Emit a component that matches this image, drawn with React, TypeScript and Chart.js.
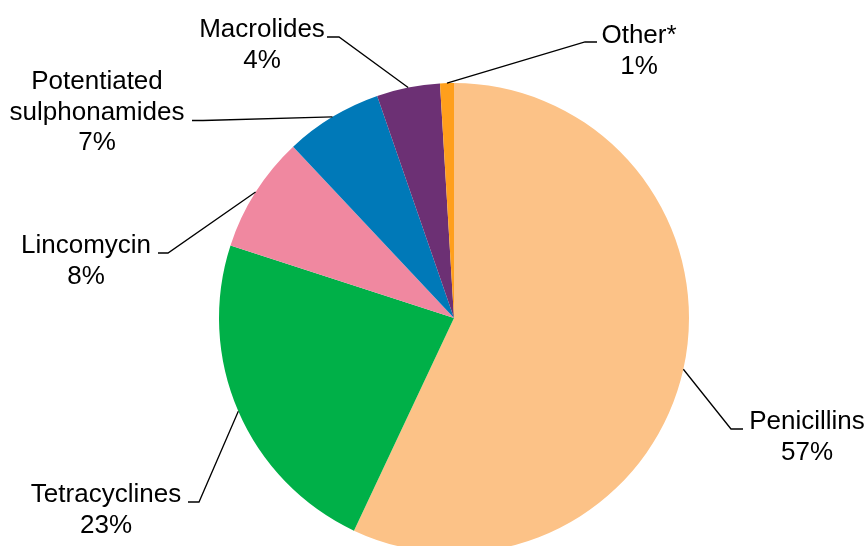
import React, { useEffect, useRef } from "react";
import { Chart, registerables } from "chart.js";

Chart.register(...registerables);

// ---- data ----
const categories = [
  "Penicillins",
  "Tetracyclines",
  "Lincomycin",
  "Potentiated sulphonamides",
  "Macrolides",
  "Other*",
];
const shares = [57.0, 23.0, 8.0, 6.7, 4.35, 0.95];
const shareLabels = ["57%", "23%", "8%", "7%", "4%", "1%"];
const labelLines = [
  ["Penicillins"],
  ["Tetracyclines"],
  ["Lincomycin"],
  ["Potentiated", "sulphonamides"],
  ["Macrolides"],
  ["Other*"],
];
const colors = ["#FCC287", "#00B048", "#F088A0", "#0079B8", "#6C3074", "#FF9F1C"];

// ---- layout of data labels (text centre x, first-line baseline y, elbow, anchor) ----
const labelLayout = [
  { x: 807, y: 429, elbow: [731, 429], anchor: [743, 429] },
  { x: 106, y: 502, elbow: [199, 502], anchor: [188, 502] },
  { x: 86, y: 253, elbow: [168, 253], anchor: [158, 253] },
  { x: 97, y: 89, elbow: [203, 120.5], anchor: [192, 120.5] },
  { x: 262, y: 37, elbow: [339, 37], anchor: [327, 37] },
  { x: 639, y: 43, elbow: [585, 42], anchor: [597, 42] },
];
const LINE_H = 30.5;
const FONT = "26px 'Liberation Sans', Arial, sans-serif";

const labelPlugin = {
  id: "pieLabels",
  afterDraw(chart: any) {
    const ctx = chart.ctx;
    const meta = chart.getDatasetMeta(0);
    ctx.save();
    meta.data.forEach((arc: any, i: number) => {
      const p = arc.getProps(["x", "y", "startAngle", "endAngle", "outerRadius"], true);
      const mid = (p.startAngle + p.endAngle) / 2;
      const ex = p.x + Math.cos(mid) * p.outerRadius;
      const ey = p.y + Math.sin(mid) * p.outerRadius;
      const L = labelLayout[i];
      ctx.beginPath();
      ctx.strokeStyle = "#000";
      ctx.lineWidth = 1.3;
      ctx.moveTo(ex, ey);
      ctx.lineTo(L.elbow[0], L.elbow[1]);
      ctx.lineTo(L.anchor[0], L.anchor[1]);
      ctx.stroke();

      ctx.fillStyle = "#000";
      ctx.font = FONT;
      ctx.textAlign = "center";
      ctx.textBaseline = "alphabetic";
      const lines = [...labelLines[i], shareLabels[i]];
      lines.forEach((t, k) => {
        ctx.fillText(t, L.x, L.y + k * LINE_H);
      });
    });
    ctx.restore();
  },
};

export default function App() {
  const ref = useRef<HTMLCanvasElement | null>(null);
  useEffect(() => {
    if (!ref.current) return;
    const chart = new Chart(ref.current, {
      type: "pie",
      data: {
        labels: categories,
        datasets: [
          {
            data: shares,
            backgroundColor: colors,
            borderWidth: 0,
          },
        ],
      },
      options: {
        animation: false,
        responsive: true,
        maintainAspectRatio: false,
        layout: { padding: { top: 83, left: 219, right: 179, bottom: 7 } },
        plugins: {
          legend: { display: false },
          tooltip: { enabled: false },
        },
      },
      plugins: [labelPlugin],
    });
    return () => chart.destroy();
  }, []);

  return (
    <div
      style={{
        position: "fixed",
        left: 0,
        top: 0,
        width: 868,
        height: 546,
        overflow: "hidden",
        background: "#fff",
      }}
    >
      <div style={{ position: "relative", width: 868, height: 560 }}>
        <canvas ref={ref} />
      </div>
    </div>
  );
}
